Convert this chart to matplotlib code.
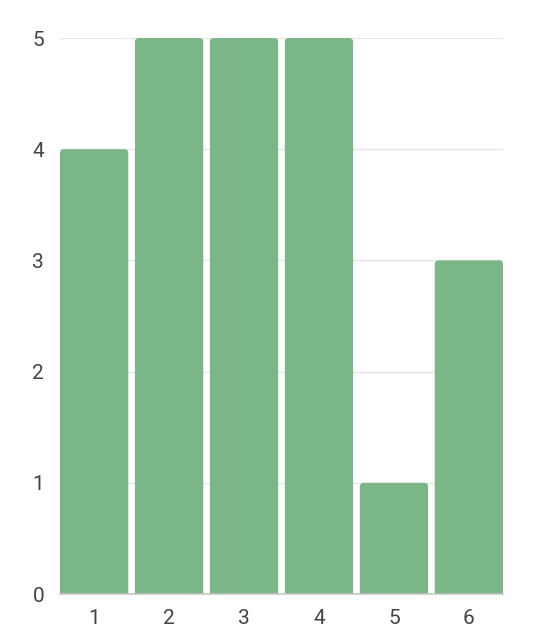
import matplotlib
matplotlib.use("Agg")
import matplotlib.pyplot as plt
from matplotlib.patches import FancyBboxPatch

categories = [1, 2, 3, 4, 5, 6]
values = [4, 5, 5, 5, 1, 3]
yticks = [0, 1, 2, 3, 4, 5]

plt.rcParams['font.family'] = ['Roboto', 'DejaVu Sans']
W, H = 536, 642
fig = plt.figure(figsize=(W / 100, H / 100), dpi=100)
L, R, T, B = 60, 503, 38, 594
ax = fig.add_axes([L / W, (H - B) / H, (R - L) / W, (B - T) / H])

bw = 0.911
half = bw / 2
ax.set_xlim(categories[0] - half, categories[-1] + half)
ax.set_ylim(0, 5)

color = '#7bb686'
bars = ax.bar(categories, values, width=bw, color='none', edgecolor='none')
px_x = (R - L) / (ax.get_xlim()[1] - ax.get_xlim()[0])
px_y = (B - T) / (ax.get_ylim()[1] - ax.get_ylim()[0])
r_px = 4
for b in bars:
    x, w, h = b.get_x(), b.get_width(), b.get_height()
    p = FancyBboxPatch((x, -0.2), w, h + 0.2,
                       boxstyle=f"round,pad=0,rounding_size={r_px / px_x}",
                       mutation_aspect=px_x / px_y,
                       facecolor=color, edgecolor='none', zorder=2)
    ax.add_patch(p)

ax.set_yticks(yticks)
ax.set_xticks(categories)
ax.set_xticklabels([str(c) for c in categories])
ax.grid(axis='y', color='#e6e6e6', linewidth=1, zorder=0)
ax.set_axisbelow(True)
for s in ['top', 'right', 'left']:
    ax.spines[s].set_visible(False)
ax.spines['bottom'].set_color('#c8c8c8')
ax.spines['bottom'].set_linewidth(1.2)
ax.spines['bottom'].set_zorder(3)
ax.tick_params(axis='both', length=0, labelsize=15, labelcolor='#444444')
ax.tick_params(axis='y', pad=11.5)
ax.tick_params(axis='x', pad=11)

fig.savefig('out.png', dpi=100)
